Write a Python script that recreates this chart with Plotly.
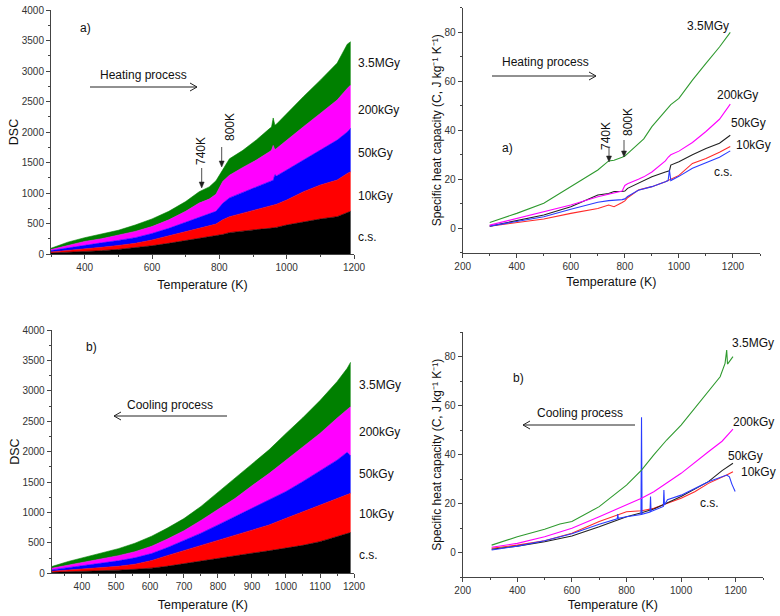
import plotly.graph_objects as go

W, H = 780, 616
def X(px): return px / W
def Y(py): return 1 - py / H

# ---------------- DATA ----------------
# DSC heating (panel a, left): upper edge of each stacked band
T_heat = [300, 350, 400, 450, 500, 550, 600, 650, 700, 740, 770, 790, 810, 830, 870, 910,
          950, 955, 960, 965, 970, 1000, 1050, 1100, 1150, 1180, 1190]
dsc_heat_cs    = [17, 28, 39, 55, 75, 100, 135, 175, 220, 250, 275, 292, 320, 350, 380, 400,
                  421, 425, 428, 432, 436, 475, 530, 574, 612, 680, 700]
dsc_heat_10k   = [33, 56, 83, 110, 140, 175, 230, 300, 370, 420, 460, 490, 560, 610, 670, 730,
                  790, 795, 800, 805, 815, 885, 1022, 1131, 1213, 1320, 1349]
dsc_heat_50k   = [56, 100, 150, 183, 222, 267, 336, 421, 520, 600, 660, 700, 830, 920, 1010, 1100,
                  1180, 1190, 1210, 1300, 1280, 1377, 1541, 1705, 1868, 2000, 2060]
dsc_heat_200k  = [72, 139, 206, 250, 306, 370, 450, 560, 700, 835, 900, 980, 1190, 1290, 1420, 1540,
                  1680, 1700, 1780, 1710, 1730, 1868, 2087, 2305, 2524, 2715, 2770]
dsc_heat_3_5M  = [94, 194, 267, 322, 389, 475, 575, 700, 860, 1020, 1100, 1200, 1390, 1560, 1700, 1870,
                  2060, 2080, 2230, 2110, 2130, 2305, 2580, 2850, 3130, 3440, 3480]

# DSC cooling (panel b, left)
T_cool = [311, 360, 409, 458, 507, 556, 605, 650, 700, 750, 800, 850, 900, 950, 1000, 1050,
          1100, 1150, 1180, 1190]
dsc_cool_cs    = [17, 23, 30, 40, 52, 66, 85, 115, 160, 205, 250, 290, 330, 370, 415, 460,
                  520, 600, 650, 670]
dsc_cool_10k   = [33, 52, 72, 92, 115, 150, 210, 290, 375, 460, 545, 630, 712, 794, 904, 1013,
                  1123, 1233, 1300, 1315]
dsc_cool_50k   = [56, 92, 130, 165, 205, 255, 325, 420, 540, 660, 795, 935, 1070, 1205, 1345, 1510,
                  1680, 1860, 1990, 1930]
dsc_cool_200k  = [83, 135, 190, 235, 290, 355, 445, 560, 700, 870, 1050, 1230, 1440, 1640, 1860, 2080,
                  2300, 2550, 2690, 2740]
dsc_cool_3_5M  = [111, 195, 265, 330, 405, 495, 610, 740, 900, 1100, 1330, 1570, 1800, 2030, 2300, 2560,
                  2840, 3150, 3370, 3470]

# Specific heat capacity, heating (panel a, right)
T_cp_heat = [300, 400, 500, 600, 700, 740, 760, 790, 800, 810, 850, 870, 900, 950, 960, 965, 970,
             1000, 1050, 1100, 1150, 1190]
cp_heat_3_5M = [2.4, 6.1, 10.2, 17, 23.8, 27.5, 27.8, 29, 29.5, 30.5, 34.5, 36.5, 41.5, 48, 49.5, 50, 50.5,
                53, 60.5, 67.3, 74, 80]
cp_heat_200k = [1.3, 4.1, 6.8, 9.5, 12.9, 13.9, 14.3, 15.2, 17.5, 18.2, 20, 21, 23, 27.5, 29, 29.5, 30,
                31.5, 35, 39.5, 44.5, 50.7]
cp_heat_50k  = [0.9, 3, 5.4, 8.8, 13.6, 14.2, 15, 15, 15.2, 16.3, 18.5, 19.5, 21, 23, 23.3, 23.5, 25.8,
                27.2, 30, 32.6, 34.7, 38]
cp_heat_10k  = [0.9, 2.3, 3.8, 6.1, 8.1, 9.5, 8.8, 10.5, 11.2, 12.5, 15.6, 16.2, 17, 19, 19.5, 19.8, 20,
                21.6, 26.5, 28.5, 31, 33.4]
cp_heat_cs   = [0.9, 2.7, 4.7, 7.8, 10.6, 11.3, 11.4, 11.7, 12, 13, 15.5, 16, 17, 19, 19.5, 23.7, 19.5,
                21.2, 24.5, 26.8, 29, 31.6]

# Specific heat capacity, cooling (panel b, right)
T_cp_cool_3_5M = [306, 400, 500, 556, 600, 700, 800, 855, 900, 947, 1000, 1045, 1100, 1143, 1161, 1167, 1170, 1190]
cp_cool_3_5M   = [3.1, 6.5, 9.6, 11.7, 12.7, 18.8, 27.6, 33.7, 39.9, 46, 52.1, 58.2, 65.7, 71.8, 77.3, 82.7, 77, 80]
T_cp_cool_mid  = [306, 400, 500, 600, 700, 800, 855, 900, 1000, 1100, 1150, 1190]
cp_cool_200k   = [2.2, 3.8, 6.5, 10, 14.7, 19.5, 22.2, 24.9, 32.4, 41.2, 45.5, 50.4]
cp_cool_50k    = [1.4, 2.7, 4.5, 6.8, 10.6, 14.7, 16.3, 17.8, 22.9, 29, 33.5, 36.5]
T_cp_cool_10k  = [306, 400, 500, 600, 700, 800, 855, 900, 950, 1000, 1050, 1100, 1167, 1190]
cp_cool_10k    = [1.8, 3.1, 4.9, 7.9, 12.7, 16.7, 17.1, 18.1, 20.2, 22.2, 24.9, 28.3, 31.7, 33]
T_cp_cool_cs   = [306, 400, 500, 600, 700, 766, 768, 770, 800, 853, 855, 857, 886, 888, 890, 935, 937, 939,
                  950, 1000, 1100, 1167, 1177, 1186, 1198]
cp_cool_cs     = [1.1, 2.7, 4.9, 7.7, 11.6, 13.8, 15.8, 14, 14.7, 15.6, 55.3, 15.7, 16.6, 22.9, 16.8, 18.9, 25.6, 19.5,
                  21.6, 23.5, 29, 31.7, 31, 28, 25]

dose_labels = ["c.s.", "10kGy", "50kGy", "200kGy", "3.5MGy"]

# ---------------- FIGURE ----------------
fig = go.Figure()

dsc_colors = ["#000000", "#ff0000", "#0000ff", "#ff00ff", "#008000"]
heat_sets = [dsc_heat_cs, dsc_heat_10k, dsc_heat_50k, dsc_heat_200k, dsc_heat_3_5M]
cool_sets = [dsc_cool_cs, dsc_cool_10k, dsc_cool_50k, dsc_cool_200k, dsc_cool_3_5M]
for i, (vals, c, nm) in enumerate(zip(heat_sets, dsc_colors, dose_labels)):
    fig.add_trace(go.Scatter(x=T_heat, y=vals, mode="lines", name=nm,
                             line=dict(color=c, width=0.6), fill="tozeroy" if i == 0 else "tonexty",
                             fillcolor=c, xaxis="x", yaxis="y", showlegend=False))
for i, (vals, c, nm) in enumerate(zip(cool_sets, dsc_colors, dose_labels)):
    fig.add_trace(go.Scatter(x=T_cool, y=vals, mode="lines", name=nm,
                             line=dict(color=c, width=0.6), fill="tozeroy" if i == 0 else "tonexty",
                             fillcolor=c, xaxis="x3", yaxis="y3", showlegend=False))

cp_colors = {"3.5MGy": "#2f9a2f", "200kGy": "#ff00ff", "50kGy": "#222222", "10kGy": "#ff2a2a", "c.s.": "#2a3cff"}
for vals, nm in [(cp_heat_10k, "10kGy"), (cp_heat_50k, "50kGy"), (cp_heat_cs, "c.s."),
                 (cp_heat_200k, "200kGy"), (cp_heat_3_5M, "3.5MGy")]:
    fig.add_trace(go.Scatter(x=T_cp_heat, y=vals, mode="lines", name=nm,
                             line=dict(color=cp_colors[nm], width=1.1), xaxis="x2", yaxis="y2", showlegend=False))
for tx, vals, nm in [(T_cp_cool_10k, cp_cool_10k, "10kGy"), (T_cp_cool_mid, cp_cool_50k, "50kGy"),
                     (T_cp_cool_cs, cp_cool_cs, "c.s."), (T_cp_cool_mid, cp_cool_200k, "200kGy"),
                     (T_cp_cool_3_5M, cp_cool_3_5M, "3.5MGy")]:
    fig.add_trace(go.Scatter(x=tx, y=vals, mode="lines", name=nm,
                             line=dict(color=cp_colors[nm], width=1.1), xaxis="x4", yaxis="y4", showlegend=False))

AX = "#444444"
def axis(title, size, standoff, **kw):
    d = dict(showline=True, linecolor=AX, linewidth=1, ticks="outside", ticklen=4, tickcolor=AX,
             tickfont=dict(size=10, color="#333333"), showgrid=False, zeroline=False,
             title=dict(text=title, font=dict(size=size, color="#111111"), standoff=standoff),
             automargin=False)
    d.update(kw)
    return d

def minor(dt):
    return dict(ticks="outside", ticklen=2, tickcolor=AX, dtick=dt, showgrid=False)

T_TITLE = "Temperature (K)"
CP_TITLE = "Specific heat capacity (C, J kg\u207b\u00b9 K\u207b\u00b9)"

fig.update_layout(
    width=W, height=H, margin=dict(l=0, r=0, t=0, b=0),
    paper_bgcolor="white", plot_bgcolor="white",
    font=dict(family="Liberation Sans, Arial, sans-serif", color="#111111"),
    xaxis=axis(T_TITLE, 12.5, 8, domain=[X(51), X(354)], range=[300, 1200], dtick=200, tick0=0,
               minor=minor(100), anchor="y"),
    yaxis=axis("DSC", 12.5, 0, domain=[Y(254), Y(10)], range=[0, 4000], dtick=500, minor=minor(250), anchor="x"),
    xaxis2=axis(T_TITLE, 12.5, 6, domain=[X(462.7), X(760)], range=[200, 1300], dtick=200, tick0=0,
                minor=minor(100), anchor="y2"),
    yaxis2=axis(CP_TITLE, 12, 0, domain=[Y(252.8), Y(7.8)], range=[-10, 90], dtick=20, tick0=0,
                minor=minor(10), anchor="x2"),
    xaxis3=axis(T_TITLE, 12.5, 8, domain=[X(51.7), X(354)], range=[311, 1200], dtick=100, tick0=0,
                minor=minor(50), anchor="y3"),
    yaxis3=axis("DSC", 12.5, 0, domain=[Y(573.3), Y(330)], range=[0, 4000], dtick=500, minor=minor(250), anchor="x3"),
    xaxis4=axis(T_TITLE, 12.5, 5, domain=[X(462.7), X(763)], range=[200, 1300], dtick=200, tick0=0,
                minor=minor(100), anchor="y4"),
    yaxis4=axis(CP_TITLE, 12, 0, domain=[Y(577.2), Y(332.2)], range=[-10, 90], dtick=20, tick0=0,
                minor=minor(10), anchor="x4"),
)

ann = []
def txt(px, py, s, size=12, angle=0, xanchor="center", color="#111111"):
    ann.append(dict(x=X(px), y=Y(py), xref="paper", yref="paper", text=s, showarrow=False,
                    textangle=angle, xanchor=xanchor, yanchor="middle",
                    font=dict(size=size, color=color)))

# panel marks and process labels
txt(85, 28, "a)", 12)
txt(91, 347, "b)", 12)
txt(507, 148, "a)", 12)
txt(518, 378, "b)", 12)
txt(143, 75, "Heating process", 12)
txt(170, 405, "Cooling process", 12)
txt(545, 62, "Heating process", 12)
txt(580, 413, "Cooling process", 12)

# temperature markers
txt(201, 151, "740K", 12, -90)
txt(230, 127, "800K", 12, -90)
txt(606, 136, "740K", 12, -90)
txt(628, 122, "800K", 12, -90)

# series labels, left panels
for py, s in [(63, "3.5MGy"), (110, "200kGy"), (153, "50kGy"), (196, "10kGy"), (237, "c.s.")]:
    txt(356, py, s, 12, xanchor="left")
for py, s in [(385, "3.5MGy"), (432, "200kGy"), (474, "50kGy"), (514, "10kGy"), (555, "c.s.")]:
    txt(357, py, s, 12, xanchor="left")
# series labels, right panels
for px, py, s in [(708, 26, "3.5MGy"), (737, 95, "200kGy"), (748, 123, "50kGy"), (753, 145, "10kGy"), (723, 172, "c.s.")]:
    txt(px, py, s, 12)
for px, py, s in [(753, 343, "3.5MGy"), (753, 422, "200kGy"), (745, 456, "50kGy"), (758, 472, "10kGy"), (709, 503, "c.s.")]:
    txt(px, py, s, 12)

fig.update_layout(annotations=ann)

# arrows drawn as shapes
shapes = []
def seg(a, b, c, e, w=1):
    shapes.append(dict(type="line", xref="paper", yref="paper", x0=X(a), y0=Y(b), x1=X(c), y1=Y(e),
                       line=dict(color="#222222", width=w)))

def harrow(x0, x1, py):
    d = 1 if x1 > x0 else -1
    seg(x0, py, x1, py)
    seg(x1, py, x1 - d * 7, py - 4)
    seg(x1, py, x1 - d * 7, py + 4)

def varrow(px, py_tail, py_head):
    seg(px, py_tail, px, py_head - 4, 0.8)
    path = "M {} {} L {} {} L {} {} Z".format(X(px), Y(py_head), X(px - 2.5), Y(py_head - 6),
                                            X(px + 2.5), Y(py_head - 6))
    shapes.append(dict(type="path", xref="paper", yref="paper", path=path,
                       fillcolor="#222222", line=dict(color="#222222", width=0.5)))

harrow(90, 197, 87)
harrow(227, 114, 416)
harrow(492, 596, 76)
harrow(635, 523, 425)
varrow(201.7, 168, 188)
varrow(221.7, 147, 167)
varrow(609, 148, 162)
varrow(624, 140, 157)
fig.update_layout(shapes=shapes)

fig.write_html("out.html")
